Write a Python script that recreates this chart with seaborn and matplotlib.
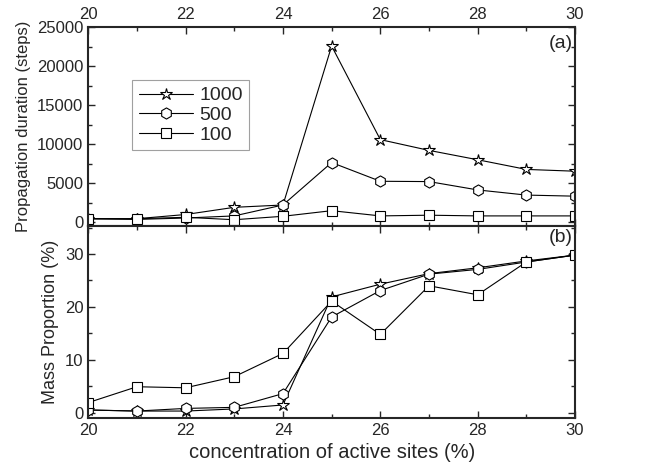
import matplotlib
matplotlib.use("Agg")
import matplotlib.pyplot as plt
import matplotlib.ticker as mticker
import seaborn as sns

sns.set_style("ticks")
plt.rcParams["font.family"] = ["Liberation Sans", "DejaVu Sans"]

# concentration of active sites (%)
conc = [20, 21, 22, 23, 24, 25, 26, 27, 28, 29, 30]

# (a) propagation duration (steps)
dur_1000 = [440, 440, 980, 1900, 2200, 22580, 10580, 9200, 8000, 6760, 6530]
dur_500 = [440, 350, 530, 800, 2200, 7640, 5240, 5200, 4130, 3470, 3330]
dur_100 = [440, 440, 620, 310, 750, 1470, 800, 890, 800, 800, 800]

# (b) mass proportion (%)
mass_1000 = [0.5, 0.3, 0.3, 0.7, 1.45, 21.9, 24.3, 26.3, 27.4, 28.7, 29.8]
mass_500 = [0.5, 0.3, 0.8, 1.0, 3.6, 18.1, 23.1, 26.2, 27.1, 28.5, 29.8]
mass_100 = [1.9, 4.9, 4.7, 6.8, 11.2, 21.1, 14.8, 24.0, 22.3, 28.5, 29.8]

labels = ["1000", "500", "100"]
markers = ["*", "h", "s"]
msizes = [9, 8, 7]

fig = plt.figure(figsize=(6.49, 4.68), dpi=100)
ax_a = fig.add_axes([0.136, 0.517, 0.750, 0.425])
ax_b = fig.add_axes([0.136, 0.107, 0.750, 0.410], sharex=ax_a)

for ys, lab, m, ms in zip([dur_1000, dur_500, dur_100], labels, markers, msizes):
    sns.lineplot(x=conc, y=ys, ax=ax_a, color="black", linewidth=0.8,
                 marker=m, markersize=ms, markerfacecolor="white",
                 markeredgecolor="black", markeredgewidth=0.8, label=lab)

for ys, lab, m, ms in zip([mass_1000, mass_500, mass_100], labels, markers, msizes):
    sns.lineplot(x=conc, y=ys, ax=ax_b, color="black", linewidth=0.8,
                 marker=m, markersize=ms, markerfacecolor="white",
                 markeredgecolor="black", markeredgewidth=0.8, legend=False)

for ax in (ax_a, ax_b):
    ax.set_xlim(20, 30)
    ax.xaxis.set_major_locator(mticker.MultipleLocator(2))
    ax.xaxis.set_minor_locator(mticker.MultipleLocator(1))
    ax.tick_params(which="both", direction="in", top=True, right=True,
                   labelsize=12)
    ax.tick_params(which="major", length=5, width=1)
    ax.tick_params(which="minor", length=3, width=1)
    for sp in ax.spines.values():
        sp.set_linewidth(1.5)

ax_a.set_ylim(-500, 25000)
ax_a.yaxis.set_major_locator(mticker.MultipleLocator(5000))
ax_a.yaxis.set_minor_locator(mticker.MultipleLocator(2500))
ax_a.tick_params(labelbottom=False, labeltop=True)
ax_a.set_ylabel("Propagation duration (steps)", fontsize=12)
ax_a.text(0.995, 0.96, "(a)", transform=ax_a.transAxes, ha="right", va="top",
          fontsize=14)
leg = ax_a.legend(loc="upper left", bbox_to_anchor=(0.09, 0.734), fontsize=14,
                  frameon=True, fancybox=False, edgecolor="#888888",
                  borderaxespad=0, handlelength=2.8, handletextpad=0.3,
                  borderpad=0.35, labelspacing=0.1)
leg.get_frame().set_linewidth(0.8)

ax_b.set_ylim(-1, 35.3)
ax_b.yaxis.set_major_locator(mticker.MultipleLocator(10))
ax_b.yaxis.set_minor_locator(mticker.MultipleLocator(5))
ax_b.set_ylabel("Mass Proportion (%)", fontsize=13)
ax_b.set_xlabel("concentration of active sites (%)", fontsize=14.5)
ax_b.text(0.995, 0.985, "(b)", transform=ax_b.transAxes, ha="right", va="top",
          fontsize=14)

fig.savefig("out.png", dpi=100)
